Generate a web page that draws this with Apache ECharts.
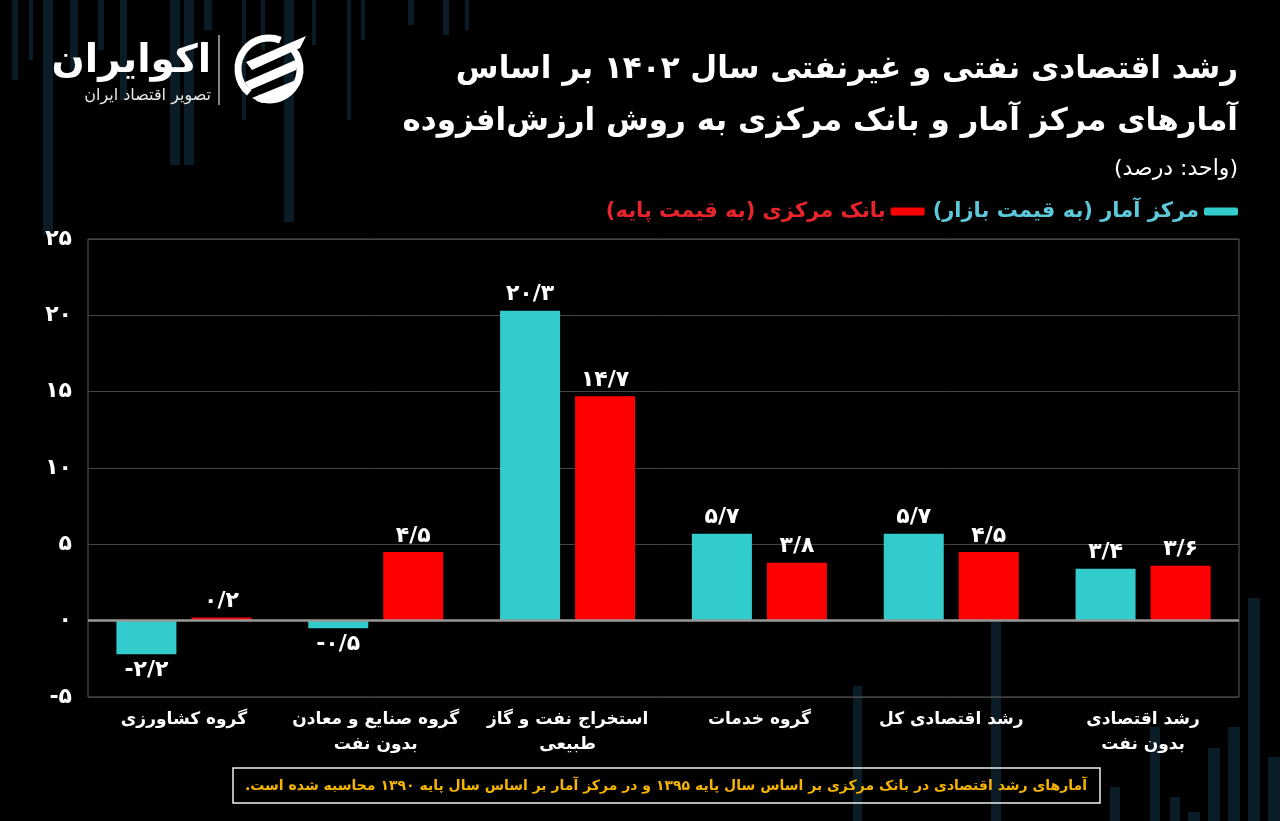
<!DOCTYPE html>
<html>
<head>
<meta charset="utf-8">
<script src="https://cdn.jsdelivr.net/npm/echarts@6/dist/echarts.min.js"></script>
<style>
html,body{margin:0;padding:0;background:#000;}
#c{width:1280px;height:821px;}
</style>
</head>
<body>
<div id="c"></div>
<script>
// ---- data ----
const categories = ['گروه کشاورزی', 'گروه صنایع و معادن\nبدون نفت', 'استخراج نفت و گاز\nطبیعی', 'گروه خدمات', 'رشد اقتصادی کل', 'رشد اقتصادی\nبدون نفت'];
const statCenter = [-2.2, -0.5, 20.3, 5.7, 5.7, 3.4];   // مرکز آمار
const centralBank = [0.2, 4.5, 14.7, 3.8, 4.5, 3.6];   // بانک مرکزی
const yMin = -5, yMax = 25, yStep = 5;
const titleLines = ['رشد اقتصادی نفتی و غیرنفتی سال ۱۴۰۲ بر اساس', 'آمارهای مرکز آمار و بانک مرکزی به روش ارزش‌افزوده'];
const unitText = '(واحد: درصد)';
const seriesNames = ['مرکز آمار (به قیمت بازار)', 'بانک مرکزی (به قیمت پایه)'];
const footnote = 'آمارهای رشد اقتصادی در بانک مرکزی بر اساس سال پایه ۱۳۹۵ و در مرکز آمار بر اساس سال پایه ۱۳۹۰ محاسبه شده است.';

const FONT = "'DejaVu Sans', sans-serif";
const rtl = s => '\u202B' + s + '\u202C';
const fa = v => String(v).replace('.', '/').replace(/[0-9]/g, d => '۰۱۲۳۴۵۶۷۸۹'[d]);
const name0 = rtl(seriesNames[0]), name1 = rtl(seriesNames[1]);
const CYAN = '#33CCCC', RED = '#FF0000';

function items(arr) {
  return arr.map(v => ({
    value: v,
    label: { position: v < 0 ? 'bottom' : 'top' }
  }));
}

// decorative background stripes [x, w, y0, y1]
const stripes = [[12,6,0,80],[29,4,0,60],[43,10,0,235],[70,8,0,70],[98,6,0,50],[120,7,0,100],[170,10,0,165],[184,10,0,165],[204,8,0,30],[242,4,0,120],[261,4,0,50],[284,10,0,222],[312,4,0,45],[347,4,0,120],[361,4,0,40],[408,6,0,25],[443,6,0,35],[465,4,0,30],
  [853,9,686,821],[991,10,622,821],[1110,10,787,821],[1150,10,727,821],[1170,10,797,821],[1188,12,812,821],[1208,12,748,821],[1228,12,727,821],[1248,12,598,821],[1268,12,757,821]];

const graphics = stripes.map(s => ({
  type: 'rect', silent: true, z: -10,
  shape: { x: s[0], y: s[2], width: s[1], height: s[3] - s[2] },
  style: { fill: '#0a1d26' }
}));

// logo
graphics.push(
  { type: 'text', x: 211, y: 62, style: { text: 'اکوایران', fill: '#fff', font: "bold 39px " + FONT, align: 'right', verticalAlign: 'middle' } },
  { type: 'text', x: 211, y: 96, style: { text: 'تصویر اقتصاد ایران', fill: '#e8e8e8', font: "16px " + FONT, align: 'right', verticalAlign: 'middle' } },
  { type: 'line', shape: { x1: 219, y1: 35, x2: 219, y2: 105 }, style: { stroke: '#ddd', lineWidth: 1.2 } },
  { type: 'arc', shape: { cx: 269, cy: 69, r: 31, startAngle: Math.PI * 0.72, endAngle: Math.PI * 1.62 }, style: { stroke: '#fff', lineWidth: 7, fill: null } },
  { type: 'arc', shape: { cx: 269, cy: 69, r: 31, startAngle: -Math.PI * 0.28, endAngle: Math.PI * 0.62 }, style: { stroke: '#fff', lineWidth: 7, fill: null } },
  { type: 'polygon', shape: { points: [[246,62],[306,36],[300,48],[252,70]] }, style: { fill: '#fff' } },
  { type: 'polygon', shape: { points: [[245,82],[300,58],[296,70],[250,90]] }, style: { fill: '#fff' } },
  { type: 'polygon', shape: { points: [[252,98],[296,80],[290,92],[262,103]] }, style: { fill: '#fff' } }
);

// footnote box
graphics.push(
  { type: 'rect', shape: { x: 233, y: 768, width: 867, height: 35 }, style: { fill: null, stroke: '#f0f0f0', lineWidth: 1.5 } },
  { type: 'text', x: 666, y: 786, style: { text: rtl(footnote), fill: '#F5B400', font: "bold 14px " + FONT, align: 'center', verticalAlign: 'middle' } }
);

const chart = echarts.init(document.getElementById('c'));
chart.setOption({
  backgroundColor: '#000',
  animation: false,
  textStyle: { fontFamily: FONT },
  title: [
    { text: titleLines[0], right: 37, top: 49, textStyle: { color: '#fff', fontSize: 31, fontWeight: 'bold', fontFamily: FONT } },
    { text: titleLines[1], right: 37, top: 101, textStyle: { color: '#fff', fontSize: 31, fontWeight: 'bold', fontFamily: FONT } },
    { text: rtl(unitText), right: 37, top: 153, textStyle: { color: '#fff', fontSize: 22, fontWeight: 'normal', fontFamily: FONT } }
  ],
  legend: {
    right: 37, top: 196, align: 'right', itemGap: 8,
    itemWidth: 34, itemHeight: 8, icon: 'roundRect',
    data: [
      { name: name1, textStyle: { color: '#E8242B' } },
      { name: name0, textStyle: { color: '#5CC9DA' } }
    ],
    textStyle: { fontSize: 21, fontWeight: 'bold', fontFamily: FONT }
  },
  grid: { left: 88, right: 41, top: 239, bottom: 124, show: true, borderColor: '#5a5a5a', borderWidth: 1, backgroundColor: 'transparent' },
  xAxis: {
    type: 'category', data: categories,
    axisLine: { show: false }, axisTick: { show: false },
    axisLabel: { interval: 0, color: '#fff', fontSize: 17, fontWeight: 'bold', lineHeight: 25, margin: 10, fontFamily: FONT }
  },
  yAxis: {
    type: 'value', min: yMin, max: yMax, interval: yStep,
    axisLine: { show: false }, axisTick: { show: false },
    splitLine: { lineStyle: { color: '#444', width: 1 } },
    axisLabel: { color: '#fff', fontSize: 22, fontWeight: 'bold', margin: 16, fontFamily: FONT, formatter: v => fa(v) }
  },
  series: [
    {
      name: name0, type: 'bar', data: items(statCenter), barWidth: 60, barGap: '25%',
      itemStyle: { color: CYAN },
      label: { show: true, color: '#fff', fontSize: 22, fontWeight: 'bold', distance: 5, fontFamily: FONT, formatter: p => fa(p.value) },
      markLine: { silent: true, symbol: 'none', label: { show: false }, lineStyle: { color: '#999', width: 2.5, type: 'solid' }, data: [{ yAxis: 0 }], z: 5 }
    },
    {
      name: name1, type: 'bar', data: items(centralBank), barWidth: 60,
      itemStyle: { color: RED },
      label: { show: true, color: '#fff', fontSize: 22, fontWeight: 'bold', distance: 5, fontFamily: FONT, formatter: p => fa(p.value) }
    }
  ],
  graphic: graphics
});
</script>
</body>
</html>
